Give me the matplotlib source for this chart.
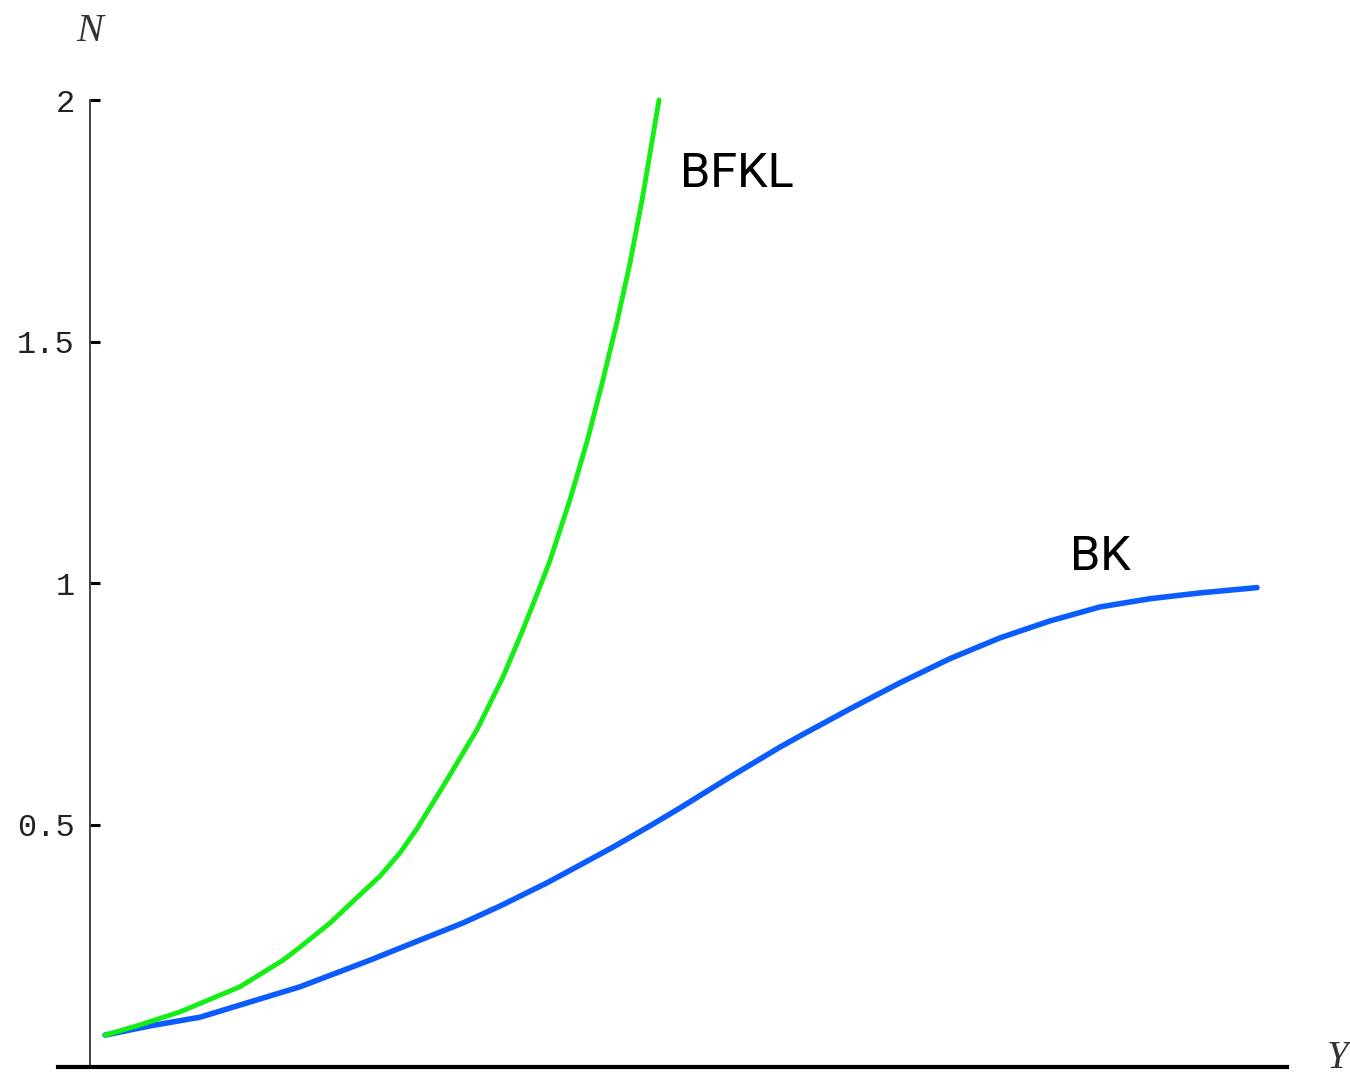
import matplotlib
matplotlib.use('Agg')
import matplotlib.pyplot as plt
from matplotlib import font_manager

# values (Y in arbitrary units, N)
bfkl_y = [0.129, 0.428, 0.771, 1.285, 1.654, 1.800, 2.057, 2.228, 2.485, 2.656, 2.802,
          3.059, 3.316, 3.539, 3.710, 3.856, 3.942, 4.113, 4.259, 4.396, 4.516, 4.627,
          4.739, 4.876]
bfkl_n = [0.065, 0.086, 0.113, 0.165, 0.220, 0.247, 0.297, 0.336, 0.394, 0.442, 0.492,
          0.593, 0.697, 0.806, 0.904, 0.993, 1.047, 1.173, 1.293, 1.421, 1.541, 1.662,
          1.804, 2.0]

bk_y = [0.129, 0.514, 0.943, 1.800, 2.399, 2.656, 3.196, 3.513, 3.916, 4.284, 4.482,
        4.799, 5.056, 5.484, 5.913, 6.084, 6.512, 6.941, 7.369, 7.798, 8.226, 8.655,
        9.083, 9.512, 10.0]
bk_n = [0.065, 0.084, 0.102, 0.165, 0.220, 0.245, 0.297, 0.332, 0.380, 0.428, 0.454,
        0.498, 0.535, 0.599, 0.661, 0.684, 0.740, 0.794, 0.844, 0.887, 0.922, 0.951,
        0.968, 0.980, 0.991]

yticks = [0.5, 1, 1.5, 2]
ytick_labels = ['0.5', '1', '1.5', '2']

names = set(f.name for f in font_manager.fontManager.ttflist)
label_font = 'Liberation Sans Narrow' if 'Liberation Sans Narrow' in names else 'Roboto'
label_size = 39 if label_font == 'Liberation Sans Narrow' else 35

fig = plt.figure(figsize=(13.5, 10.81), dpi=100, facecolor='white')
ax = fig.add_axes([58/1350, 1 - 1066.5/1081, (1287 - 58)/1350, (1066.5 - 100)/1081])

ax.plot(bk_y, bk_n, color='#0a5cff', linewidth=4.0, solid_capstyle='round',
        solid_joinstyle='round', clip_on=False)
ax.plot(bfkl_y, bfkl_n, color='#14ee14', linewidth=3.5, solid_capstyle='round',
        solid_joinstyle='round', clip_on=False)

ax.set_xlim(-0.274, 10.257)
ax.set_ylim(0, 2)

ax.spines['top'].set_visible(False)
ax.spines['right'].set_visible(False)
ax.spines['left'].set_position(('data', 0))
ax.spines['left'].set_bounds(0, 2)
ax.spines['left'].set_color('#444444')
ax.spines['left'].set_linewidth(1.4)
ax.spines['bottom'].set_linewidth(3.0)
ax.spines['bottom'].set_color('black')

ax.set_xticks([])
ax.set_yticks(yticks)
ax.set_yticklabels(ytick_labels, family='Liberation Mono', fontsize=23, color='#222222')
ax.tick_params(axis='y', direction='in', length=7, width=2.2, pad=11, color='black')

ax.text(5.056, 1.821, 'BFKL', family=label_font, fontsize=label_size, ha='left', va='baseline')
ax.text(8.398, 1.028, 'BK', family=label_font, fontsize=label_size, ha='left', va='baseline')

ax.text(0.0, 2.142, 'N', family='Liberation Serif', style='italic', fontsize=29,
        ha='center', va='center', clip_on=False, color='#333333')
ax.text(10.694, 0.016, 'Y', family='Liberation Serif', style='italic', fontsize=28,
        ha='center', va='center', clip_on=False, color='#333333')

fig.savefig('out.png', dpi=100)
